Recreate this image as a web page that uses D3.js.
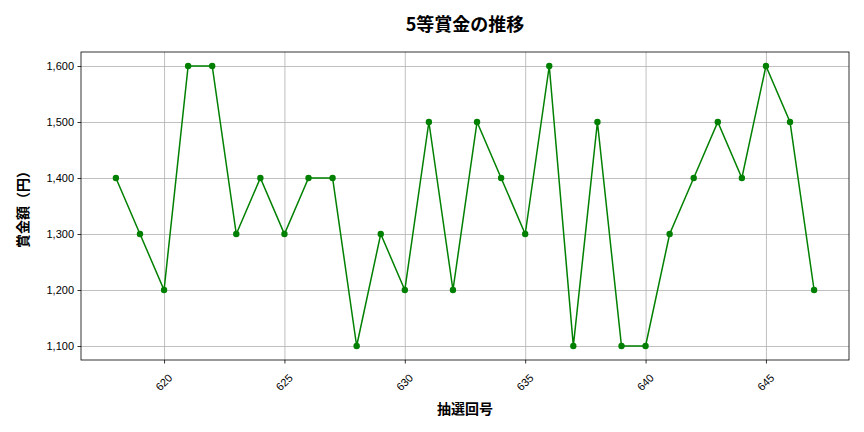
<!DOCTYPE html>
<html>
<head>
<meta charset="utf-8">
<script src="https://cdn.jsdelivr.net/npm/d3@7"></script>
<style>
  body { margin: 0; background: #fff; }
  svg { font-family: "Noto Sans CJK JP", "DejaVu Sans", sans-serif; }
  .grid line { stroke: #b0b0b0; stroke-width: 0.8; }
  .grid path { display: none; }
  .axis path, .axis line { stroke: #000; stroke-width: 0.8; }
  .axis text { font-size: 11px; fill: #000; }
</style>
</head>
<body>
<svg id="chart" width="864" height="432"></svg>
<script>
// 抽選回号
var draws = [618, 619, 620, 621, 622, 623, 624, 625, 626, 627, 628, 629, 630, 631, 632,
             633, 634, 635, 636, 637, 638, 639, 640, 641, 642, 643, 644, 645, 646, 647];
// 5等賞金 (円)
var prizes = [1400, 1300, 1200, 1600, 1600, 1300, 1400, 1300, 1400, 1400, 1100, 1300, 1200, 1500, 1200,
              1500, 1400, 1300, 1600, 1100, 1500, 1100, 1100, 1300, 1400, 1500, 1400, 1600, 1500, 1200];
var xTicks = [620, 625, 630, 635, 640, 645];
var yTicks = [1100, 1200, 1300, 1400, 1500, 1600];

var svg = d3.select("#chart");
var margin = { top: 52, right: 15, bottom: 72, left: 81 };
var width = +svg.attr("width");
var height = +svg.attr("height");

var data = draws.map((d, i) => ({ draw: d, prize: prizes[i] }));

// matplotlib style 5% margins
var xExt = d3.extent(draws), xPad = (xExt[1] - xExt[0]) * 0.05;
var yExt = d3.extent(prizes), yPad = (yExt[1] - yExt[0]) * 0.05;

var xScale = d3.scaleLinear()
               .domain([xExt[0] - xPad, xExt[1] + xPad])
               .range([margin.left, width - margin.right]);

var yScale = d3.scaleLinear()
               .domain([yExt[0] - yPad, yExt[1] + yPad])
               .range([height - margin.bottom, margin.top]);

// grid
svg.append("g")
    .classed("grid", true)
    .attr("transform", "translate(0," + (height - margin.bottom) + ")")
    .call(d3.axisBottom(xScale).tickValues(xTicks).tickSize(-(height - margin.top - margin.bottom)).tickFormat(""));

svg.append("g")
    .classed("grid", true)
    .attr("transform", "translate(" + margin.left + ",0)")
    .call(d3.axisLeft(yScale).tickValues(yTicks).tickSize(-(width - margin.left - margin.right)).tickFormat(""));

// frame
svg.append("rect")
    .attr("x", margin.left)
    .attr("y", margin.top)
    .attr("width", width - margin.left - margin.right)
    .attr("height", height - margin.top - margin.bottom)
    .attr("fill", "none")
    .attr("stroke", "#000")
    .attr("stroke-width", 0.8);

var xAxis = svg.append("g")
    .classed("axis", true)
    .attr("transform", "translate(0," + (height - margin.bottom) + ")")
    .call(d3.axisBottom(xScale).tickValues(xTicks).tickSize(3.5).tickPadding(3).tickFormat(d3.format("d")));
xAxis.select(".domain").remove();
xAxis.selectAll("text")
    .attr("text-anchor", "end")
    .attr("dy", "0")
    .attr("transform", "translate(4,14) rotate(-45)");

var yAxis = svg.append("g")
    .classed("axis", true)
    .attr("transform", "translate(" + margin.left + ",0)")
    .call(d3.axisLeft(yScale).tickValues(yTicks).tickSize(3.5).tickPadding(3.5).tickFormat(d3.format(",")));
yAxis.select(".domain").remove();

var line = d3.line()
             .x(d => xScale(d.draw))
             .y(d => yScale(d.prize));

svg.append("path")
    .datum(data)
    .attr("fill", "none")
    .attr("stroke", "green")
    .attr("stroke-width", 1.5)
    .attr("d", line);

svg.selectAll(".dot")
    .data(data)
    .enter()
    .append("circle")
      .classed("dot", true)
      .attr("cx", d => xScale(d.draw))
      .attr("cy", d => yScale(d.prize))
      .attr("r", 3.2)
      .attr("fill", "green");

svg.append("text")
    .attr("x", (margin.left + width - margin.right) / 2)
    .attr("y", 31)
    .attr("text-anchor", "middle")
    .style("font-size", "18px")
    .style("font-weight", "bold")
    .text("5等賞金の推移");

svg.append("text")
    .attr("x", (margin.left + width - margin.right) / 2)
    .attr("y", 414)
    .attr("text-anchor", "middle")
    .style("font-size", "14px")
    .style("font-weight", "bold")
    .text("抽選回号");

svg.append("text")
    .attr("transform", "translate(28," + ((margin.top + height - margin.bottom) / 2) + ") rotate(-90)")
    .attr("text-anchor", "middle")
    .style("font-size", "14px")
    .style("font-weight", "bold")
    .text("賞金額（円）");
</script>
</body>
</html>
